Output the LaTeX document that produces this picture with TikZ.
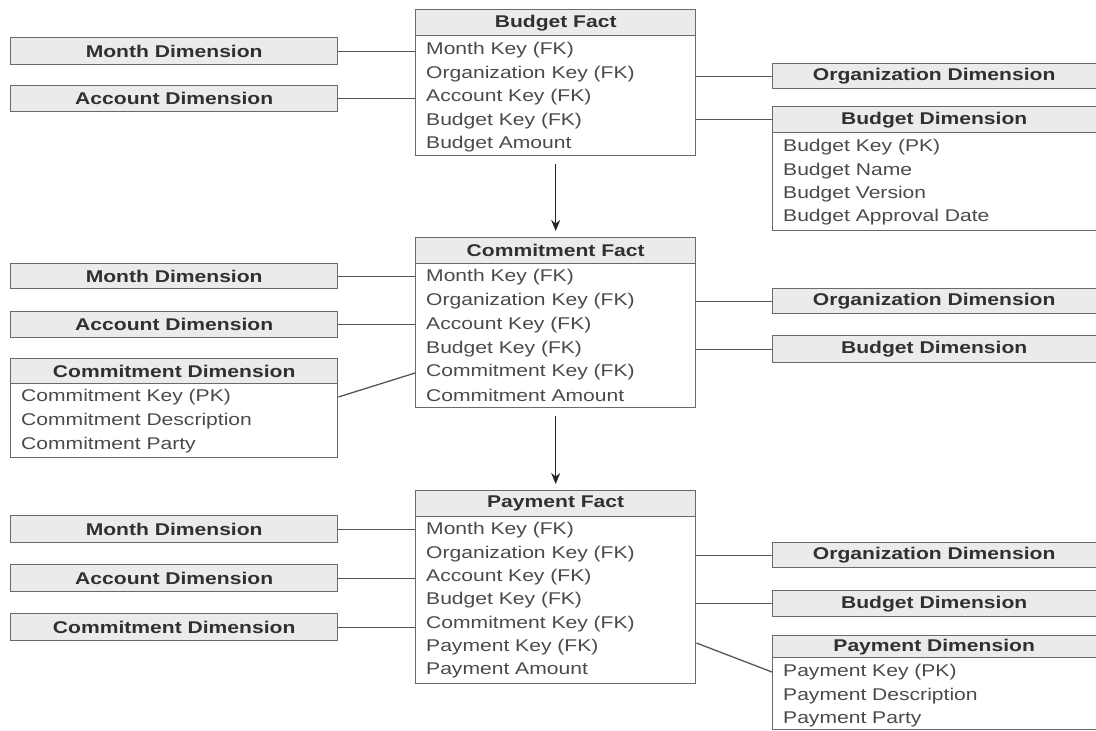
\documentclass[tikz,border=0pt]{standalone}
\usepackage{fontspec}
\newfontfamily\rfont{Liberation Sans}[FakeStretch=1.24]
\usetikzlibrary{arrows.meta}
\definecolor{bord}{HTML}{6A6A6A}
\definecolor{hfill}{HTML}{EBEBEB}
\definecolor{htext}{HTML}{303030}
\definecolor{btext}{HTML}{4A4A4A}
\definecolor{lnc}{HTML}{555555}
\tikzset{
 boxbase/.style={draw=bord, line width=1.4pt, rectangle, inner sep=0pt, anchor=north west},
 hdr/.style={boxbase, fill=hfill, text=htext, font={\rfont\bfseries\fontsize{17}{20}\selectfont}},
 tbody/.style={boxbase, fill=white},
 rowtxt/.style={anchor=west, inner sep=0pt, yshift=-2pt, text=btext, font={\rfont\fontsize{17}{20}\selectfont}},
 conn/.style={draw=lnc, line width=1.3pt},
 flow/.style={draw=black!85, line width=1.5pt, -{Stealth[length=11pt,width=9pt]}, shorten <=8pt, shorten >=6pt}
}
\begin{document}
\begin{tikzpicture}[x=1pt,y=-1pt]
\useasboundingbox (0,0) rectangle (1096,731);
\clip (0,0) rectangle (1096,731);
% ---------- Budget Fact ----------
\node[hdr, minimum width=280pt, minimum height=26pt] (bfh) at (415,9) {Budget Fact};
\node[tbody, minimum width=280pt, minimum height=120pt] (bfb) at (415,35) {};
\node[rowtxt] (bf1) at (426,48) {Month Key (FK)};
\node[rowtxt] (bf2) at (426,72) {Organization Key (FK)};
\node[rowtxt] (bf3) at (426,95) {Account Key (FK)};
\node[rowtxt] (bf4) at (426,119) {Budget Key (FK)};
\node[rowtxt] (bf5) at (426,142) {Budget Amount};
\node[hdr, minimum width=327pt, minimum height=27pt] (md1) at (10,37) {Month Dimension};
\node[hdr, minimum width=327pt, minimum height=26pt] (ad1) at (10,85) {Account Dimension};
\node[hdr, minimum width=328pt, minimum height=25pt] (od1) at (772,63) {\hspace*{-5pt}Organization Dimension};
\node[hdr, minimum width=328pt, minimum height=26pt] (bdh) at (772,106) {\hspace*{-5pt}Budget Dimension};
\node[tbody, minimum width=328pt, minimum height=98pt] (bdb) at (772,132) {};
\node[rowtxt] (bd1) at (783,145) {Budget Key (PK)};
\node[rowtxt] (bd2) at (783,169) {Budget Name};
\node[rowtxt] (bd3) at (783,192) {Budget Version};
\node[rowtxt] (bd4) at (783,215) {Budget Approval Date};
\draw[conn] (md1.east) -- (md1.east -| bfb.west);
\draw[conn] (ad1.east) -- (ad1.east -| bfb.west);
\draw[conn] (od1.west) -- (od1.west -| bfb.east);
\draw[conn] (bdh.west) -- (bdh.west -| bfb.east);
% ---------- Commitment Fact ----------
\node[hdr, minimum width=280pt, minimum height=26pt] (cfh) at (415,237) {Commitment Fact};
\node[tbody, minimum width=280pt, minimum height=144pt] (cfb) at (415,263) {};
\node[rowtxt] (cf1) at (426,275) {Month Key (FK)};
\node[rowtxt] (cf2) at (426,299) {Organization Key (FK)};
\node[rowtxt] (cf3) at (426,323) {Account Key (FK)};
\node[rowtxt] (cf4) at (426,347) {Budget Key (FK)};
\node[rowtxt] (cf5) at (426,370) {Commitment Key (FK)};
\node[rowtxt] (cf6) at (426,393) {Commitment Amount};
\node[hdr, minimum width=327pt, minimum height=25pt] (md2) at (10,263) {Month Dimension};
\node[hdr, minimum width=327pt, minimum height=26pt] (ad2) at (10,311) {Account Dimension};
\node[hdr, minimum width=327pt, minimum height=25pt] (cdh) at (10,358) {Commitment Dimension};
\node[tbody, minimum width=327pt, minimum height=74pt] (cdb) at (10,383) {};
\node[rowtxt] (cd1) at (21,395) {Commitment Key (PK)};
\node[rowtxt] (cd2) at (21,419) {Commitment Description};
\node[rowtxt] (cd3) at (21,443) {Commitment Party};
\node[hdr, minimum width=328pt, minimum height=25pt] (od2) at (772,288) {\hspace*{-5pt}Organization Dimension};
\node[hdr, minimum width=328pt, minimum height=27pt] (bd2h) at (772,335) {\hspace*{-5pt}Budget Dimension};
\draw[conn] (md2.east) -- (md2.east -| cfb.west);
\draw[conn] (ad2.east) -- (ad2.east -| cfb.west);
\draw[conn] (cd1 -| cdb.east) -- ([yshift=-1pt]cf5 -| cfb.west);
\draw[conn] (od2.west) -- (od2.west -| cfb.east);
\draw[conn] (bd2h.west) -- (bd2h.west -| cfb.east);
% ---------- Payment Fact ----------
\node[hdr, minimum width=280pt, minimum height=26pt] (pfh) at (415,490) {Payment Fact};
\node[tbody, minimum width=280pt, minimum height=167pt] (pfb) at (415,516) {};
\node[rowtxt] (pf1) at (426,528) {Month Key (FK)};
\node[rowtxt] (pf2) at (426,552) {Organization Key (FK)};
\node[rowtxt] (pf3) at (426,575) {Account Key (FK)};
\node[rowtxt] (pf4) at (426,598) {Budget Key (FK)};
\node[rowtxt] (pf5) at (426,622) {Commitment Key (FK)};
\node[rowtxt] (pf6) at (426,645) {Payment Key (FK)};
\node[rowtxt] (pf7) at (426,668) {Payment Amount};
\node[hdr, minimum width=327pt, minimum height=27pt] (md3) at (10,515) {Month Dimension};
\node[hdr, minimum width=327pt, minimum height=27pt] (ad3) at (10,564) {Account Dimension};
\node[hdr, minimum width=327pt, minimum height=27pt] (cd3h) at (10,613) {Commitment Dimension};
\node[hdr, minimum width=328pt, minimum height=25pt] (od3) at (772,542) {\hspace*{-5pt}Organization Dimension};
\node[hdr, minimum width=328pt, minimum height=26pt] (bd3h) at (772,590) {\hspace*{-5pt}Budget Dimension};
\node[hdr, minimum width=328pt, minimum height=22pt] (pdh) at (772,635) {\hspace*{-5pt}Payment Dimension};
\node[tbody, minimum width=328pt, minimum height=72pt] (pdb) at (772,657) {};
\node[rowtxt] (pd1) at (783,670) {Payment Key (PK)};
\node[rowtxt] (pd2) at (783,694) {Payment Description};
\node[rowtxt] (pd3) at (783,717) {Payment Party};
\draw[conn] (md3.east) -- (md3.east -| pfb.west);
\draw[conn] (ad3.east) -- (ad3.east -| pfb.west);
\draw[conn] (cd3h.east) -- (cd3h.east -| pfb.west);
\draw[conn] (od3.west) -- (od3.west -| pfb.east);
\draw[conn] (bd3h.west) -- (bd3h.west -| pfb.east);
\draw[conn] ([yshift=4pt]pf6 -| pfb.east) -- (pd1 -| pdb.west);
% ---------- flow arrows ----------
\draw[flow] (bfb.south) -- (cfh.north);
\draw[flow] (cfb.south) -- (pfh.north);
\end{tikzpicture}
\end{document}
